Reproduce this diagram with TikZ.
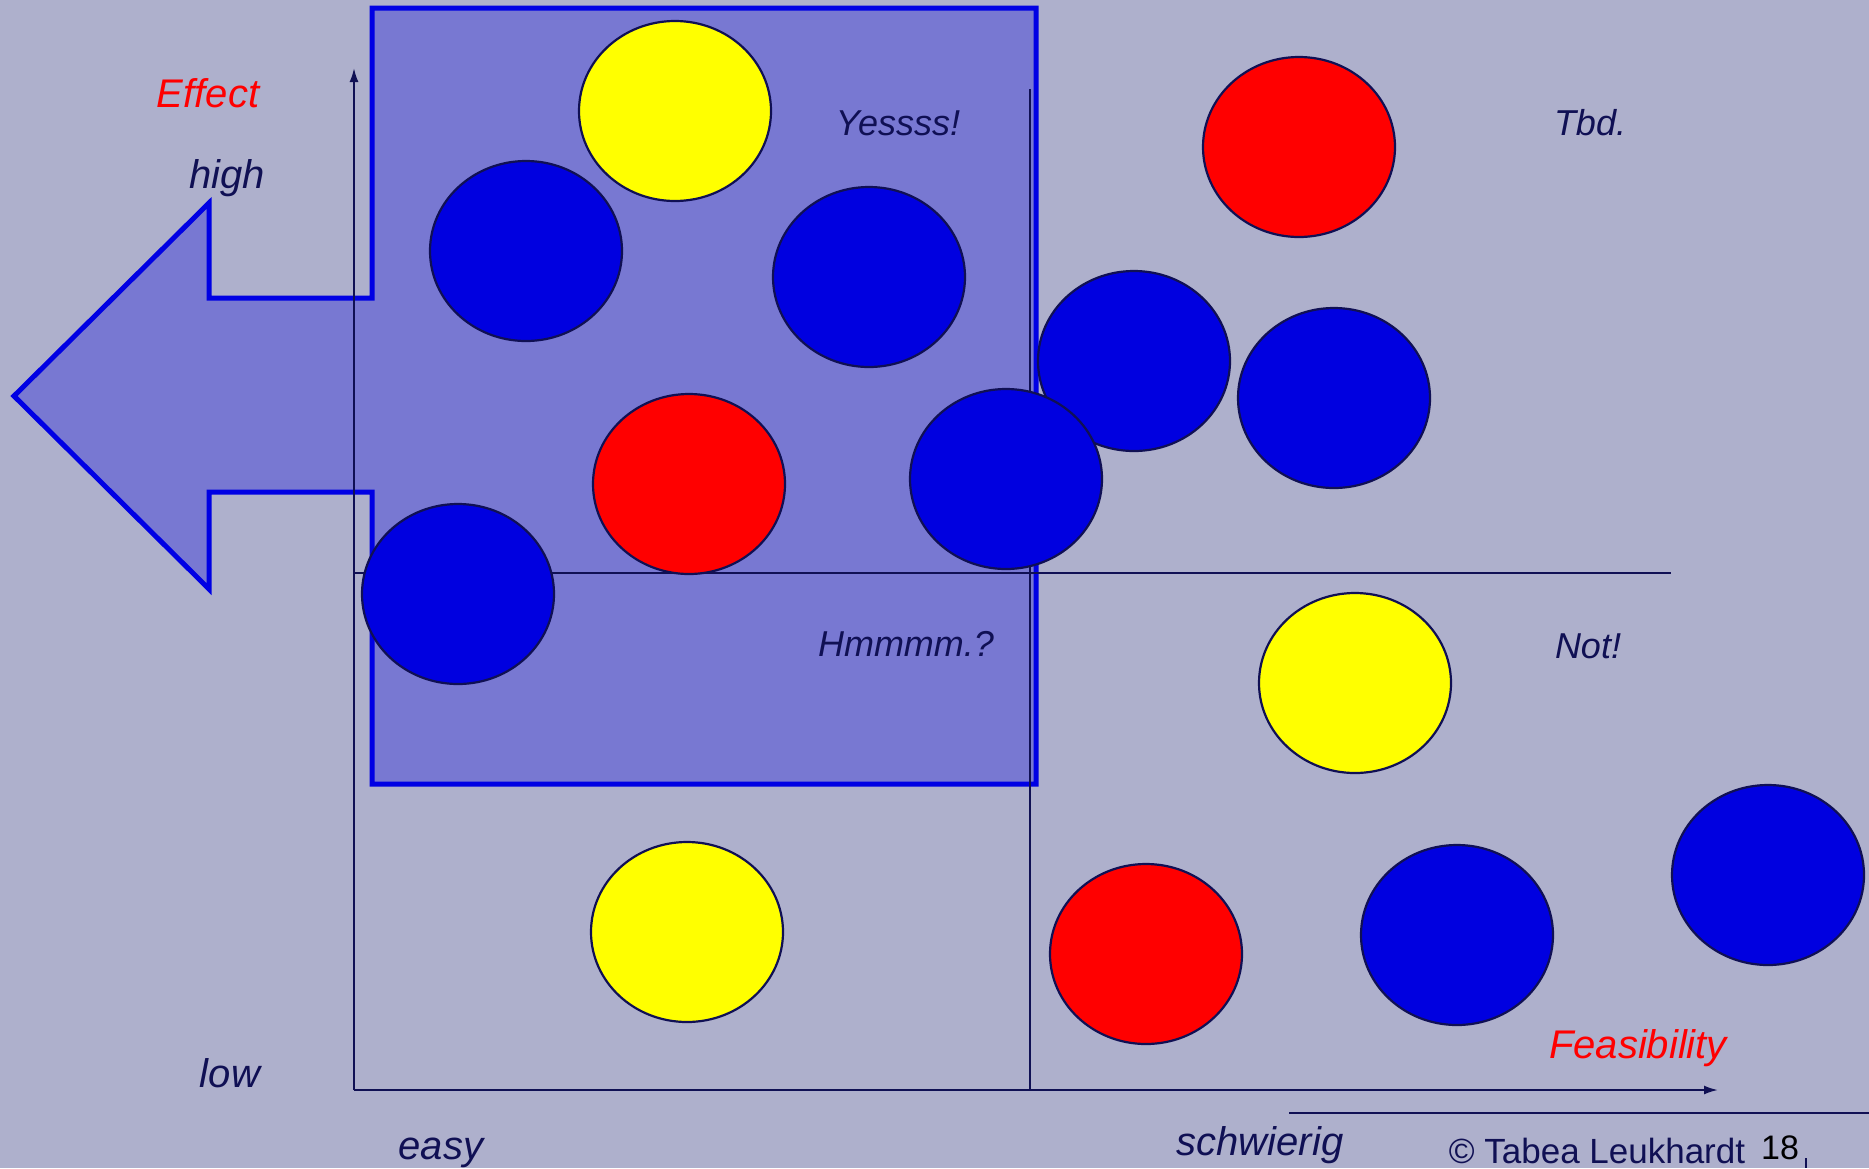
\documentclass[tikz,border=0pt]{standalone}
\usepackage{fontspec}
\setmainfont{Liberation Sans}
\definecolor{bgc}{RGB}{174,176,204}
\definecolor{boxfill}{RGB}{120,120,210}
\definecolor{boxline}{RGB}{0,0,228}
\definecolor{navy}{RGB}{16,16,84}
\definecolor{cblue}{RGB}{0,0,224}
\definecolor{cred}{RGB}{255,0,0}
\definecolor{cyel}{RGB}{255,255,0}
\begin{document}
\begin{tikzpicture}[x=1pt,y=-1pt,
  dot/.style={draw=navy,line width=2.2pt,ellipse,minimum width=192pt,minimum height=180pt,inner sep=0pt},
  ax/.style={draw=navy,line width=2pt},
  lbl/.style={text=navy,font=\fontsize{40}{44}\selectfont\itshape,anchor=base,inner sep=0pt},
  qlbl/.style={text=navy,font=\fontsize{36}{40}\selectfont\itshape,anchor=base,inner sep=0pt},
  rlbl/.style={text=cred,font=\fontsize{40}{44}\selectfont\itshape,anchor=base,inner sep=0pt}]
\usetikzlibrary{shapes.geometric,arrows.meta}
\fill[bgc] (0,0) rectangle (1869,1168);
\useasboundingbox (0,0) rectangle (1869,1168);
% box with arrow
\draw[fill=boxfill,draw=boxline,line width=5pt,line join=miter]
  (372,8) -- (1036,8) -- (1036,784) -- (372,784) -- (372,492) -- (209,492) -- (209,589)
  -- (14,396) -- (209,203) -- (209,298) -- (372,298) -- cycle;
% axes
\coordinate (o) at (354,1090);
\coordinate (yt) at (354,68);
\coordinate (xt) at (1718,1090);
\draw[ax,-{Latex[length=14pt,width=9pt]}] (o) -- (yt);
\draw[ax,-{Latex[length=14pt,width=9pt]}] (o) -- (xt);
\coordinate (hl) at (354,573);
\coordinate (hr) at (1671,573);
\draw[ax] (hl) -- (hr);
\coordinate (vt) at (1030,89);
\coordinate (vb) at (1030,1090);
\draw[ax] (vt) -- (vb);
\coordinate (ul) at (1289,1113);
\coordinate (ur) at (1869,1113);
\draw[ax] (ul) -- (ur);
\coordinate (tk1) at (1806,1158);
\coordinate (tk2) at (1806,1168);
\draw[ax,line width=2.5pt] (tk1) -- (tk2);
% circles
\node[dot,fill=cyel] (c1) at (675,111) {};
\node[dot,fill=cblue] (c2) at (526,251) {};
\node[dot,fill=cblue] (c3) at (869,277) {};
\node[dot,fill=cred] (c4) at (1299,147) {};
\node[dot,fill=cblue] (c5) at (1134,361) {};
\node[dot,fill=cblue] (c6) at (1334,398) {};
\node[dot,fill=cred] (c7) at (689,484) {};
\node[dot,fill=cblue] (c8) at (1006,479) {};
\node[dot,fill=cblue] (c9) at (458,594) {};
\node[dot,fill=cyel] (c10) at (1355,683) {};
\node[dot,fill=cblue] (c11) at (1768,875) {};
\node[dot,fill=cyel] (c12) at (687,932) {};
\node[dot,fill=cred] (c13) at (1146,954) {};
\node[dot,fill=cblue] (c14) at (1457,935) {};
% labels
\node[rlbl] (effect) at (208,107) {Effect};
\node[lbl] (high) at (227,188) {high};
\node[lbl] (low) at (230,1087) {low};
\node[lbl] (easy) at (441,1159) {easy};
\node[lbl] (schw) at (1260,1155) {schwierig};
\node[rlbl] (feas) at (1638,1058) {Feasibility};
\node[qlbl] (yes) at (898,135) {Yessss!};
\node[qlbl] (tbd) at (1590,135) {Tbd.};
\node[qlbl] (hmm) at (906,656) {Hmmmm.?};
\node[qlbl] (not) at (1588,658) {Not!};
\node[text=navy,font=\fontsize{35}{38}\selectfont,anchor=base,inner sep=0pt] (copy) at (1597,1163) {© Tabea Leukhardt};
\node[text=black,font=\fontsize{34}{38}\selectfont,anchor=base west,inner sep=0pt] (page) at (1761,1159) {18};
\end{tikzpicture}
\end{document}
